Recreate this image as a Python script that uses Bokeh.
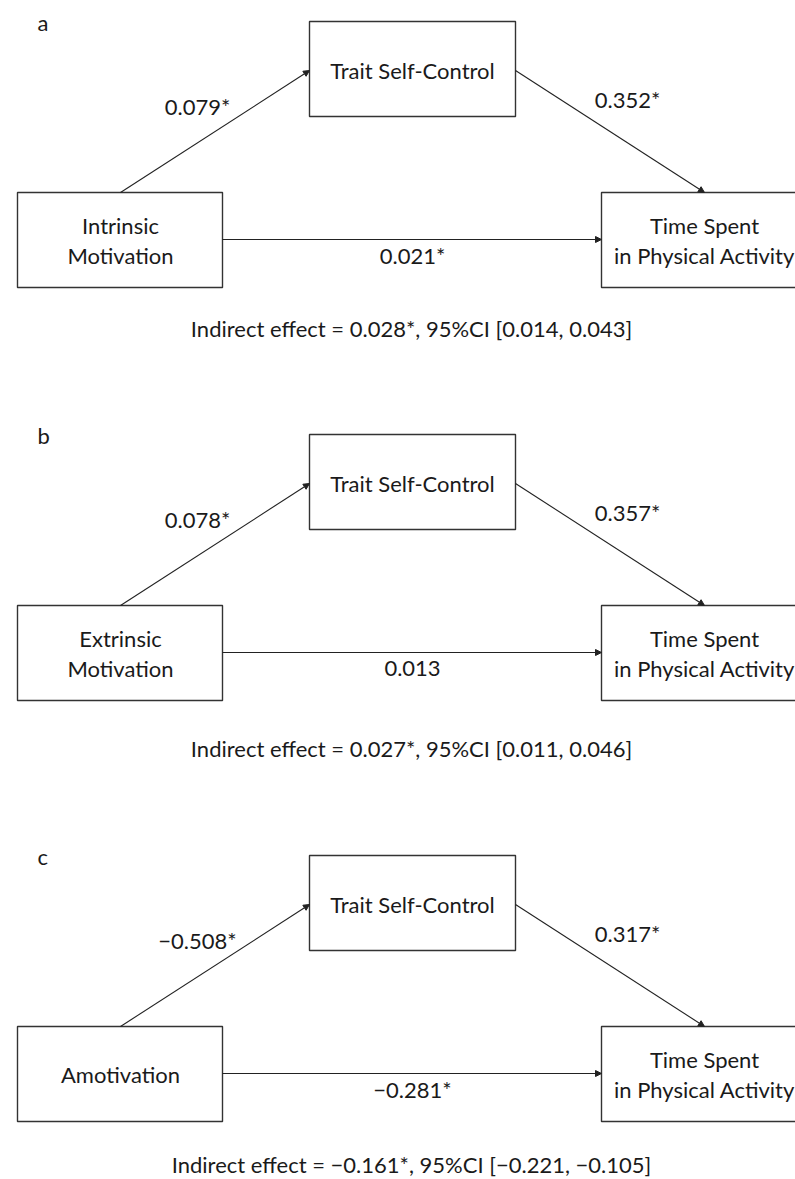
from bokeh.plotting import figure
from bokeh.models import Range1d, ColumnDataSource, Arrow, NormalHead
from bokeh.core.properties import value
from bokeh.embed import file_html
from bokeh.resources import INLINE

# ---- data ----
panels = ["a", "b", "c"]
predictors = [["Intrinsic", "Motivation"], ["Extrinsic", "Motivation"], ["Amotivation"]]
mediator = "Trait Self-Control"
outcome = ["Time Spent", "in Physical Activity"]
path_a = ["0.079*", "0.078*", "\u22120.508*"]
path_b = ["0.352*", "0.357*", "0.317*"]
path_c = ["0.021*", "0.013", "\u22120.281*"]
indirect = [
    "Indirect effect = 0.028*, 95%CI [0.014, 0.043]",
    "Indirect effect = 0.027*, 95%CI [0.011, 0.046]",
    "Indirect effect = \u22120.161*, 95%CI [\u22120.221, \u22120.105]",
]

# ---- layout (page pixel coordinates) ----
offsets = [0, 413, 834]
indirect_y = [328, 748, 1164]
FONT = "Lato"
FS = "22px"
TXT = "#1a1a1a"
LINE = "#333333"

p = figure(width=795, height=1179, output_backend="svg", toolbar_location=None,
           x_range=Range1d(0, 795), y_range=Range1d(1179, 0),
           min_border=0)
p.axis.visible = False
p.grid.visible = False
p.outline_line_color = None
p.background_fill_color = "white"
p.border_fill_color = "white"

# boxes
L, R, T, B = [], [], [], []
for o in offsets:
    for (l, r, t, b) in [(309, 515, 21, 116), (17, 222, 192, 287), (601, 806, 192, 287)]:
        L.append(l); R.append(r); T.append(t + o); B.append(b + o)
p.quad(left=L, right=R, top=T, bottom=B, fill_color="white",
       line_color=LINE, line_width=1.4)

# arrows
xs, ys, xe, ye = [], [], [], []
for o in offsets:
    for (a, b, c, d) in [(120, 192, 309, 70), (515, 70, 704, 192), (222, 239, 601, 239)]:
        xs.append(a); ys.append(b + o); xe.append(c); ye.append(d + o)
asrc = ColumnDataSource(dict(xs=xs, ys=ys, xe=xe, ye=ye))
p.add_layout(Arrow(end=NormalHead(size=6, line_color="#222222", fill_color="#222222", line_width=1),
                   x_start="xs", y_start="ys", x_end="xe", y_end="ye", source=asrc,
                   line_color="#222222", line_width=1.1))

# texts
tx, ty, tt = [], [], []
for i, o in enumerate(offsets):
    tx.append(412); ty.append(70 + o); tt.append(mediator)
    pl = predictors[i]
    if len(pl) == 2:
        tx += [120, 120]; ty += [225 + o, 255 + o]; tt += pl
    else:
        tx.append(120); ty.append(240 + o); tt.append(pl[0])
    tx += [704, 704]; ty += [225 + o, 255 + o]; tt += outcome
    tx.append(197); ty.append(106 + o); tt.append(path_a[i])
    tx.append(627); ty.append(99 + o); tt.append(path_b[i])
    tx.append(412); ty.append(255 + o); tt.append(path_c[i])
    tx.append(411); ty.append(indirect_y[i]); tt.append(indirect[i])
p.text(x=tx, y=ty, text=tt, text_font=value(FONT), text_font_size=FS,
       text_align="center", text_baseline="middle", text_color=TXT)

# panel letters
p.text(x=[37] * 3, y=[22 + o for o in offsets], text=panels, text_font=value(FONT),
       text_font_size=FS, text_align="left", text_baseline="middle", text_color=TXT)

open("out.html", "w").write(file_html(p, INLINE))
